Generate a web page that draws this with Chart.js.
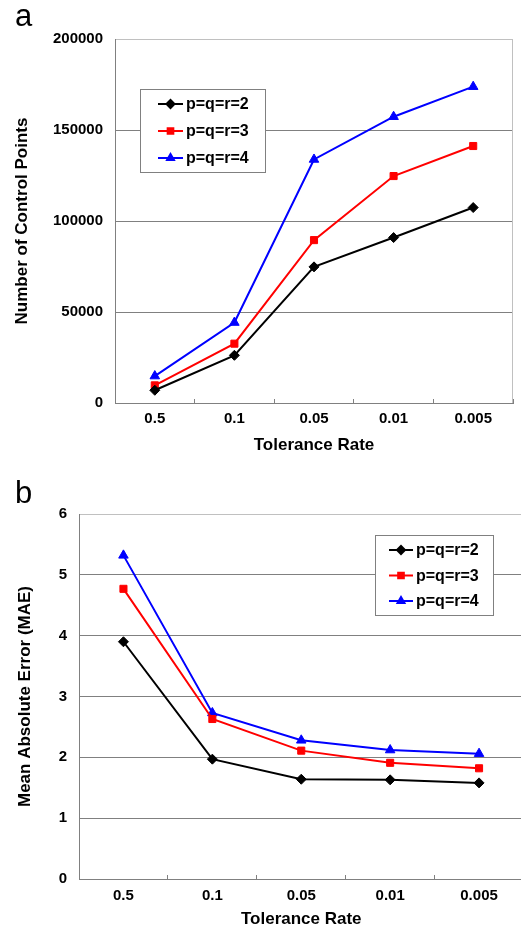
<!DOCTYPE html>
<html>
<head>
<meta charset="utf-8">
<script src="https://cdn.jsdelivr.net/npm/chart.js@4.4.0/dist/chart.umd.min.js"></script>
<style>
  body { margin: 0; width: 521px; height: 930px; overflow: hidden; background: #fff; font-family: 'Liberation Sans', Arial, sans-serif; }
  .panel { position: absolute; left: 0; }
  .tag { position: absolute; left: 15px; font-size: 31px; line-height: 1; color: #000; }
</style>
</head>
<body>
<div class="panel" style="top:0;width:521px;height:465px"><canvas id="chartA" width="521" height="465"></canvas></div>
<div class="panel" style="top:465px;width:530px;height:465px"><canvas id="chartB" width="530" height="465"></canvas></div>
<div class="tag" style="top:0px">a</div>
<div class="tag" style="top:477px">b</div>
<script>
// data
const rates = ['0.5', '0.1', '0.05', '0.01', '0.005'];
const seriesNames = ['p=q=r=2', 'p=q=r=3', 'p=q=r=4'];

const pointsP2 = [7000, 26200, 74800, 90900, 107400];
const pointsP3 = [9700, 32600, 89500, 124700, 141200];
const pointsP4 = [14800, 44200, 133800, 157300, 173800];

const maeP2 = [3.90, 1.97, 1.64, 1.63, 1.58];
const maeP3 = [4.77, 2.63, 2.11, 1.91, 1.82];
const maeP4 = [5.32, 2.73, 2.28, 2.12, 2.06];

const pointsTicks = [0, 50000, 100000, 150000, 200000];
const maeTicks = [0, 1, 2, 3, 4, 5, 6];

const FONT = "'Liberation Sans', Arial, sans-serif";

// legend box drawn inside the plot
const boxLegend = {
  id: 'boxLegend',
  afterDraw(chart, args, o) {
    const ctx = chart.ctx;
    ctx.save();
    ctx.fillStyle = '#fff';
    ctx.fillRect(o.x, o.y, o.w, o.h);
    ctx.strokeStyle = '#808080';
    ctx.lineWidth = 1;
    ctx.strokeRect(o.x + 0.5, o.y + 0.5, o.w, o.h);
    ctx.font = 'bold 16px ' + FONT;
    ctx.textBaseline = 'middle';
    chart.data.datasets.forEach(function (ds, i) {
      const cy = o.y + o.first + i * o.row;
      const x0 = o.x + o.lineX;
      ctx.strokeStyle = ds.borderColor;
      ctx.lineWidth = 2;
      ctx.beginPath();
      ctx.moveTo(x0, cy);
      ctx.lineTo(x0 + o.lineLen, cy);
      ctx.stroke();
      ctx.fillStyle = ds.borderColor;
      Chart.helpers.drawPoint(ctx, { pointStyle: ds.pointStyle, radius: 4, borderWidth: 1, rotation: 0 }, x0 + o.lineLen / 2, cy);
      ctx.fillStyle = '#000';
      ctx.fillText(ds.label, x0 + o.lineLen + 3, cy + 1);
    });
    ctx.restore();
  }
};

// light grey frame on the right side of the plot
const plotFrame = {
  id: 'plotFrame',
  beforeDatasetsDraw(chart) {
    const a = chart.chartArea;
    const ctx = chart.ctx;
    ctx.save();
    ctx.strokeStyle = '#c0c0c0';
    ctx.lineWidth = 1;
    ctx.beginPath();
    ctx.moveTo(Math.round(a.right) - 0.5, a.top);
    ctx.lineTo(Math.round(a.right) - 0.5, a.bottom);
    ctx.stroke();
    ctx.restore();
  }
};

function makeSets(s2, s3, s4) {
  return [
    { label: seriesNames[0], data: s2, borderColor: '#000000', backgroundColor: '#000000', pointStyle: 'rectRot', pointRadius: 5 },
    { label: seriesNames[1], data: s3, borderColor: '#ff0000', backgroundColor: '#ff0000', pointStyle: 'rect', pointRadius: 5 },
    { label: seriesNames[2], data: s4, borderColor: '#0000ff', backgroundColor: '#0000ff', pointStyle: 'triangle', pointRadius: 5.5 }
  ];
}

function makeChart(id, sets, yTicks, yTitle, g) {
  const yMax = yTicks[yTicks.length - 1];
  return new Chart(document.getElementById(id), {
    type: 'line',
    data: { labels: rates, datasets: sets },
    plugins: [boxLegend, plotFrame],
    options: {
      responsive: false,
      animation: false,
      layout: { padding: { top: g.top, right: g.right, left: 0, bottom: 0 } },
      elements: {
        line: { borderWidth: 2, tension: 0 },
        point: { borderWidth: 1, hoverRadius: 5 }
      },
      plugins: {
        legend: { display: false },
        tooltip: { enabled: false },
        boxLegend: g.legend
      },
      scales: {
        x: {
          offset: true,
          grid: { offset: true, drawOnChartArea: false, drawTicks: true, tickLength: -4, color: '#808080' },
          border: { color: '#808080' },
          ticks: { color: '#000', padding: g.xPad, font: { family: FONT, size: 15, weight: 'bold' }, maxRotation: 0 },
          title: { display: true, text: 'Tolerance Rate', color: '#000', padding: { top: 0, bottom: g.xTitlePad }, font: { family: FONT, size: 17, weight: 'bold' } },
          afterFit: function (s) { s.height = g.xH; }
        },
        y: {
          min: yTicks[0],
          max: yMax,
          afterBuildTicks: function (s) { s.ticks = yTicks.map(function (v) { return { value: v }; }); },
          grid: {
            drawTicks: false,
            color: function (c) { return c.tick && c.tick.value === yMax ? '#c0c0c0' : '#808080'; }
          },
          border: { color: '#808080' },
          ticks: { color: '#000', padding: g.yPad, font: { family: FONT, size: 15, weight: 'bold' }, callback: function (v) { return String(v); } },
          title: { display: true, text: yTitle, color: '#000', padding: { top: g.yTitlePad, bottom: 0 }, font: { family: FONT, size: 17, weight: 'bold' } },
          afterFit: function (s) { s.width = g.yW; }
        }
      }
    }
  });
}

makeChart('chartA', makeSets(pointsP2, pointsP3, pointsP4), pointsTicks, 'Number of Control Points', {
  top: 39, right: 8, yW: 115, xH: 62, xPad: 11, xTitlePad: 9, yPad: 12, yTitlePad: 12,
  legend: { x: 140, y: 89, w: 125, h: 83, first: 15, row: 27, lineX: 18, lineLen: 25 }
});

makeChart('chartB', makeSets(maeP2, maeP3, maeP4), maeTicks, 'Mean Absolute Error (MAE)', {
  top: 49, right: 4, yW: 79, xH: 51, xPad: 12, xTitlePad: 0, yPad: 12, yTitlePad: 15,
  legend: { x: 375, y: 70, w: 118, h: 80, first: 15, row: 25.5, lineX: 14, lineLen: 24 }
});
</script>
</body>
</html>
